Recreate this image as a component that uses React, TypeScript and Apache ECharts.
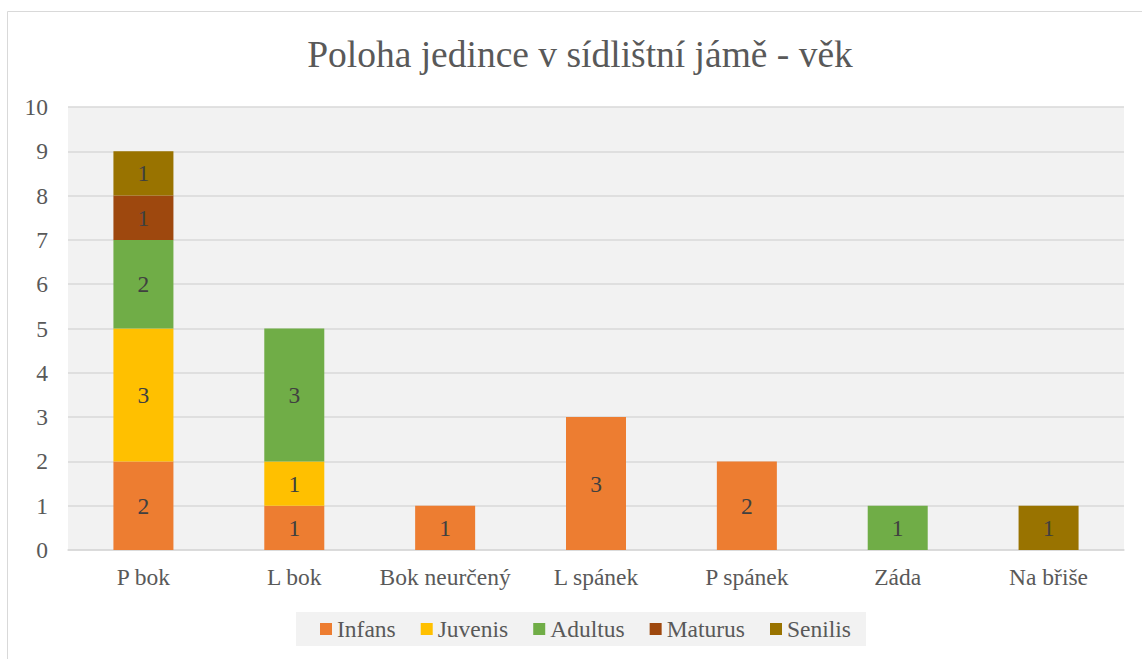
import React, { useEffect, useRef } from "react";
import * as echarts from "echarts";

const categories = ["P bok", "L bok", "Bok neurčený", "L spánek", "P spánek", "Záda", "Na břiše"];
const infans = [2, 1, 1, 3, 2, null, null];
const juvenis = [3, 1, null, null, null, null, null];
const adultus = [2, 3, null, null, null, 1, null];
const maturus = [1, null, null, null, null, null, null];
const senilis = [1, null, null, null, null, null, 1];
const seriesNames = ["Infans", "Juvenis", "Adultus", "Maturus", "Senilis"];
const seriesColors = ["#ED7D31", "#FFC000", "#70AD47", "#9E480E", "#997300"];
const yTicks = { min: 0, max: 10, interval: 1 };

const FONT = "Liberation Serif";
const LBL = 23.5;

export default function App() {
  const ref = useRef<HTMLDivElement>(null);
  useEffect(() => {
    document.body.style.margin = "0";
    const chart = echarts.init(ref.current!, null, { renderer: "svg" });
    const values = [infans, juvenis, adultus, maturus, senilis];
    chart.setOption({
      animation: false,
      backgroundColor: "#ffffff",
      graphic: [
        {
          type: "rect",
          shape: { x: 7.5, y: 11.5, width: 1140, height: 660 },
          style: { fill: "none", stroke: "#d9d9d9", lineWidth: 1 },
          silent: true,
        },
      ],
      title: {
        text: "Poloha jedince v sídlištní jámě - věk",
        left: 575,
        top: 30,
        textAlign: "center",
        textStyle: { fontFamily: FONT, fontSize: 37.5, fontWeight: "normal", color: "#595959" },
      },
      grid: { left: 68, right: 18, top: 107, bottom: 109, backgroundColor: "#f2f2f2", show: true, borderWidth: 0 },
      legend: {
        data: seriesNames,
        left: 296,
        top: 612,
        backgroundColor: "#f2f2f2",
        padding: [5, 15, 5, 24],
        itemGap: 25,
        itemWidth: 12,
        itemHeight: 12,
        icon: "rect",
        textStyle: { fontFamily: FONT, fontSize: LBL, color: "#595959" },
      },
      xAxis: {
        type: "category",
        data: categories,
        axisLine: { show: true, lineStyle: { color: "#d9d9d9", width: 1.5 } },
        axisTick: { show: false },
        axisLabel: { fontFamily: FONT, fontSize: LBL, color: "#595959", margin: 15, interval: 0 },
      },
      yAxis: {
        type: "value",
        min: yTicks.min,
        max: yTicks.max,
        interval: yTicks.interval,
        axisLine: { show: false },
        axisTick: { show: false },
        splitLine: { lineStyle: { color: "#d9d9d9", width: 1.5 } },
        axisLabel: { fontFamily: FONT, fontSize: LBL, color: "#595959", margin: 20 },
      },
      series: seriesNames.map((name, i) => ({
        name,
        type: "bar",
        stack: "total",
        barWidth: 60,
        data: values[i],
        itemStyle: { color: seriesColors[i] },
        label: {
          show: true,
          position: "inside",
          fontFamily: FONT,
          fontSize: LBL,
          color: "#404040",
        },
      })),
    });
    return () => chart.dispose();
  }, []);
  return <div ref={ref} style={{ width: 1142, height: 659 }} />;
}
